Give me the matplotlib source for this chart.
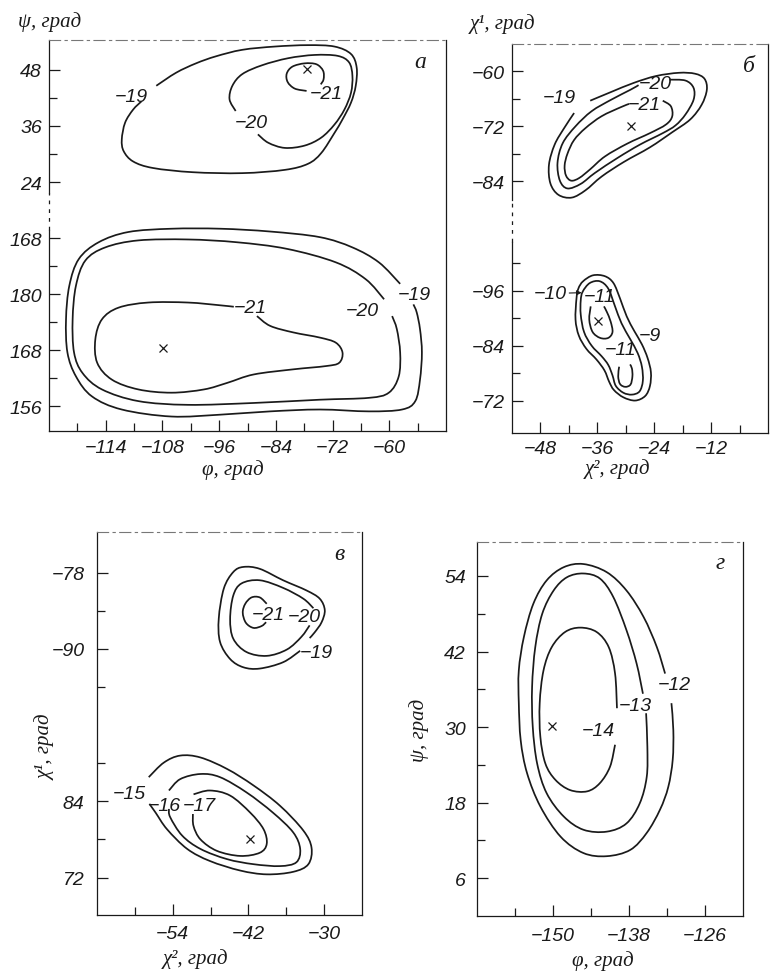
import numpy as np
import matplotlib
matplotlib.use('Agg')
from matplotlib import pyplot as plt
from matplotlib import font_manager
from matplotlib.path import Path
from matplotlib.patches import PathPatch


# ---- panel а: phi / psi, lower part of psi axis is 156..192 (shown shifted)
A_UP_19 = [(-109.3, 44.6), (-105.1, 47.4), (-100.9, 49.4), (-96.7, 50.9), (-91.1, 52.3), (-84.2, 53.0),
           (-77.2, 53.3), (-71.6, 53.0), (-68.1, 51.4), (-66.9, 48.5), (-67.1, 44.6), (-68.1, 41.0),
           (-69.9, 37.4), (-71.6, 34.5), (-74.4, 30.2), (-77.2, 27.9), (-82.1, 26.6), (-91.1, 25.9),
           (-101.6, 26.1), (-110.0, 27.0), (-114.2, 28.4), (-116.2, 30.6), (-116.6, 33.1), (-115.9, 36.7),
           (-114.2, 39.5), (-112.4, 41.3)]
A_UP_20 = [(-92.5, 39.2), (-93.8, 41.7), (-93.2, 44.6), (-91.1, 47.1), (-86.9, 49.0), (-81.4, 50.5),
           (-75.8, 51.2), (-70.9, 51.0), (-68.5, 49.6), (-67.8, 46.7), (-68.1, 43.1), (-69.5, 39.5),
           (-71.6, 36.3), (-74.4, 33.5), (-77.9, 31.8), (-82.1, 31.3), (-85.6, 32.4), (-87.8, 34.2)]
A_UP_21 = [(-77.5, 43.5), (-80.0, 44.0), (-81.5, 45.4), (-81.7, 47.2), (-80.5, 48.7), (-77.9, 49.4),
           (-75.4, 49.2), (-74.0, 47.8), (-73.9, 46.0), (-74.5, 44.9)]
A_LOW_19 = [(-57.7, 182.2), (-62.2, 186.8), (-67.8, 190.0), (-74.7, 192.2), (-85.2, 193.4), (-95.7, 194.0),
            (-106.1, 194.0), (-115.2, 193.3), (-121.5, 191.1), (-125.7, 187.5), (-127.7, 181.8),
            (-128.4, 174.6), (-128.1, 167.5), (-126.3, 162.4), (-122.9, 158.1), (-116.6, 155.3),
            (-106.1, 153.8), (-95.7, 154.2), (-85.2, 154.9), (-74.7, 155.3), (-64.3, 154.9), (-57.3, 155.3),
            (-54.5, 157.1), (-53.5, 161.7), (-53.1, 167.5), (-53.5, 172.5), (-54.2, 176.1), (-54.9, 177.8)]
A_LOW_20 = [(-61.1, 178.9), (-65.0, 183.2), (-71.3, 186.8), (-81.7, 189.7), (-92.2, 191.1), (-102.6, 191.7),
            (-113.1, 191.5), (-120.1, 190.0), (-124.3, 187.2), (-126.3, 181.8), (-127.0, 174.6),
            (-126.7, 167.5), (-124.9, 163.1), (-120.8, 159.6), (-113.1, 157.1), (-102.6, 156.3),
            (-88.7, 156.7), (-74.7, 157.4), (-64.3, 157.8), (-60.1, 158.9), (-58.0, 162.4), (-57.7, 167.5),
            (-58.4, 172.5), (-59.4, 175.3)]
A_LOW_21 = [(-88.0, 175.3), (-85.2, 173.2), (-80.3, 171.8), (-74.7, 170.7), (-71.3, 169.6), (-69.9, 167.5),
            (-70.6, 165.3), (-73.4, 164.6), (-80.3, 163.9), (-88.7, 162.8), (-94.3, 161.0), (-99.2, 159.6),
            (-106.1, 158.9), (-113.1, 159.6), (-118.7, 161.7), (-121.8, 165.3), (-122.2, 170.3),
            (-120.8, 174.6), (-117.3, 177.1), (-111.0, 178.2), (-102.6, 178.2), (-95.7, 177.6), (-92.9, 177.3)]
A_UP_LABELS = [("−19", -114.5, 42.4), ("−20", -89.1, 36.8), ("−21", -73.4, 43.0)]
A_LOW_LABELS = [("−19", -54.8, 180.0), ("−20", -65.7, 176.4), ("−21", -89.5, 177.1)]
A_UP_MIN = [(-77.4, 48.2)]
A_LOW_MIN = [(-107.9, 168.5)]
A_XTICKS = [-120, -108, -96, -84, -72, -60]
A_XLABELS = ["−114", "−108", "−96", "−84", "−72", "−60"]
A_XMINOR = [-126, -114, -102, -90, -78, -66, -54]
A_YTICKS_UP = [48, 36, 24]
A_YMINOR_UP = [42, 30]
A_YTICKS_LOW = [192, 180, 168, 156]
A_YLABELS_LOW = ["168", "180", "168", "156"]
A_YMINOR_LOW = [186, 174, 162]

# ---- panel б: chi2 / chi1
B_UP_19 = [(-37.5, -66.4), (-33.1, -64.5), (-28.3, -62.5), (-23.6, -61.0), (-18.8, -60.3), (-15.4, -60.5),
           (-13.4, -61.6), (-12.9, -64.0), (-14.0, -67.3), (-16.4, -70.5), (-20.2, -73.3), (-24.9, -76.6),
           (-30.4, -79.8), (-35.1, -83.0), (-38.5, -86.0), (-41.4, -87.6), (-44.2, -87.0), (-45.9, -84.5),
           (-46.2, -80.4), (-45.0, -76.0), (-43.0, -72.4), (-40.9, -69.1)]
B_UP_20 = [(-20.8, -61.8), (-17.4, -62.0), (-15.7, -63.6), (-15.7, -66.2), (-17.4, -69.4), (-19.5, -71.8),
           (-22.2, -73.5), (-27.0, -76.0), (-31.7, -78.9), (-36.5, -82.2), (-39.5, -84.6), (-42.3, -85.6),
           (-43.9, -83.9), (-44.4, -80.0), (-43.3, -75.7), (-40.6, -72.0), (-37.2, -68.7), (-33.1, -66.2),
           (-29.0, -64.0), (-27.3, -63.0)]
B_UP_21 = [(-22.2, -66.4), (-20.5, -67.6), (-20.2, -69.8), (-21.5, -71.6), (-24.9, -73.5), (-29.7, -75.8),
           (-34.4, -78.6), (-37.5, -81.4), (-39.8, -83.3), (-41.5, -83.9), (-42.6, -82.8), (-42.9, -80.6),
           (-42.3, -78.0), (-40.9, -75.0), (-38.5, -72.4), (-35.1, -69.8), (-31.0, -67.8), (-29.3, -67.1)]
B_LOW_9 = [(-39.0, 98.1), (-36.9, 99.4), (-34.4, 99.2), (-32.6, 97.7), (-31.2, 94.3), (-29.8, 90.4),
           (-28.2, 87.2), (-26.6, 84.3), (-25.4, 81.3), (-24.7, 78.2), (-24.9, 75.2), (-25.9, 73.0),
           (-28.0, 72.0), (-30.5, 72.7), (-32.5, 74.3), (-33.5, 76.1), (-34.5, 78.6), (-36.2, 81.0),
           (-38.3, 83.3), (-39.9, 86.2), (-40.6, 89.7), (-40.4, 94.3), (-40.0, 96.5)]
B_LOW_10 = [(-39.1, 95.8), (-37.6, 97.7), (-35.5, 98.1), (-33.7, 96.5), (-32.3, 92.7), (-30.9, 88.9),
            (-29.1, 85.5), (-27.5, 82.4), (-26.6, 79.4), (-26.4, 76.3), (-27.1, 74.0), (-28.7, 73.3),
            (-30.5, 73.7), (-32.1, 75.2), (-32.8, 77.5), (-33.7, 79.8), (-35.1, 81.7), (-37.2, 84.0),
            (-38.8, 87.0), (-39.5, 90.8), (-39.5, 93.9)]
B_LOW_11A = [(-37.4, 92.6), (-37.7, 89.7), (-37.0, 87.0), (-35.4, 85.7), (-33.7, 85.7), (-32.8, 87.0),
             (-33.2, 89.3), (-34.0, 91.4), (-34.6, 92.6)]
B_LOW_11B = [(-31.4, 79.4), (-31.6, 77.3), (-31.2, 75.6), (-30.1, 75.0), (-29.0, 75.5), (-28.6, 77.3),
             (-28.7, 79.0), (-29.1, 79.9)]
B_UP_LABELS = [("−19", -44.0, -65.8), ("−20", -23.7, -62.7), ("−21", -26.1, -67.3)]
B_LOW_LABELS = [("−11", -35.6, 94.7), ("−9", -25.0, 86.2), ("−11", -31.0, 83.2)]
B_ARROW = ("−10", -46.0, 95.4, -39.3, 95.6)
B_UP_MIN = [(-29.0, -72.0)]
B_LOW_MIN = [(-35.8, 89.3)]
B_XTICKS = [-48, -36, -24, -12]
B_XLABELS = ["−48", "−36", "−24", "−12"]
B_XMINOR = [-42, -30, -18, -6]
B_YTICKS_UP = [-60, -72, -84]
B_YMINOR_UP = [-66, -78]
B_YTICKS_LOW = [96, 84, 72]
B_YLABELS_LOW = ["−96", "−84", "−72"]
B_YMINOR_LOW = [102, 90, 78]

# ---- panel в: chi2 / chi1
C_UP_19 = [(-33.8, -90.3), (-36.5, -92.1), (-40.2, -93.1), (-42.8, -92.9), (-44.9, -91.6), (-46.5, -88.9),
           (-46.7, -85.2), (-45.9, -80.5), (-44.4, -77.9), (-42.8, -77.1), (-40.2, -77.4), (-36.5, -79.2),
           (-32.8, -80.8), (-30.7, -82.1), (-29.9, -83.9), (-30.4, -85.8), (-31.5, -87.4), (-32.3, -88.3)]
C_UP_20 = [(-31.7, -83.6), (-33.3, -82.1), (-36.5, -80.4), (-40.2, -79.2), (-43.1, -79.7), (-44.4, -81.6),
           (-44.9, -85.3), (-44.4, -88.4), (-42.3, -90.5), (-39.1, -91.1), (-35.9, -90.1), (-33.6, -88.1),
           (-32.3, -86.3)]
C_UP_21 = [(-39.1, -82.9), (-40.2, -81.9), (-41.5, -81.9), (-42.5, -82.9), (-42.9, -84.3), (-42.4, -85.9),
           (-41.2, -86.7), (-39.9, -86.4), (-39.2, -85.8)]
C_LOW_15 = [(-57.8, 87.8), (-55.4, 90.1), (-52.8, 91.2), (-49.6, 90.9), (-45.4, 89.1), (-41.2, 86.5),
            (-37.0, 83.3), (-33.3, 79.4), (-32.0, 76.7), (-32.5, 74.1), (-34.9, 72.9), (-39.1, 72.5),
            (-43.3, 73.1), (-48.1, 74.6), (-51.7, 76.5), (-54.9, 79.6), (-56.7, 82.2), (-57.7, 83.6)]
C_LOW_16 = [(-54.6, 85.7), (-52.8, 87.5), (-49.6, 88.3), (-46.5, 87.8), (-42.3, 85.4), (-38.1, 82.2),
            (-34.9, 79.1), (-33.8, 76.5), (-34.4, 74.4), (-37.0, 73.8), (-41.2, 74.1), (-45.4, 74.9),
            (-49.6, 76.5), (-52.5, 78.6), (-54.4, 81.5), (-54.6, 82.8)]
C_LOW_17 = [(-50.7, 85.1), (-48.1, 85.7), (-44.9, 84.9), (-41.7, 82.2), (-39.6, 79.6), (-39.1, 77.3),
            (-40.2, 75.9), (-43.3, 75.4), (-47.0, 76.2), (-49.6, 78.0), (-50.7, 80.1), (-50.8, 82.0)]
C_UP_LABELS = [("−21", -38.9, -84.6), ("−20", -33.1, -84.9), ("−19", -31.2, -90.6)]
C_LOW_LABELS = [("−15", -60.9, 85.3), ("−16", -55.4, 83.4), ("−17", -49.8, 83.3)]
C_LOW_MIN = [(-41.7, 78.0)]
C_XTICKS = [-54, -42, -30]
C_XLABELS = ["−54", "−42", "−30"]
C_XMINOR = [-60, -48, -36]
C_YTICKS_UP = [-78, -90]
C_YMINOR_UP = [-84, -96]
C_YTICKS_LOW = [84, 72]
C_YLABELS_LOW = ["84", "72"]
C_YMINOR_LOW = [90, 78]

# ---- panel г: phi / psi
D_12 = [(-132.3, 38.5), (-133.6, 42.7), (-135.7, 47.5), (-138.4, 51.7), (-141.5, 54.6), (-145.2, 55.9),
        (-148.3, 55.4), (-151.0, 53.3), (-153.1, 49.6), (-154.6, 44.3), (-155.4, 39.0), (-155.4, 33.8),
        (-155.1, 27.9), (-154.1, 22.7), (-152.0, 17.4), (-148.8, 12.6), (-145.2, 10.0), (-141.5, 9.5),
        (-137.8, 10.5), (-135.2, 13.2), (-133.1, 16.9), (-131.8, 20.5), (-131.1, 24.8), (-131.0, 29.5),
        (-131.3, 33.8)]
D_13 = [(-135.8, 35.3), (-136.8, 40.1), (-138.4, 45.4), (-140.5, 50.7), (-142.6, 53.6), (-145.2, 54.4),
        (-147.8, 53.8), (-149.9, 51.7), (-151.7, 48.0), (-152.8, 42.7), (-153.3, 36.4), (-153.2, 30.1),
        (-152.5, 24.2), (-151.0, 19.5), (-148.3, 15.8), (-145.2, 13.7), (-141.5, 13.4), (-138.4, 14.7),
        (-136.3, 17.9), (-135.2, 22.1), (-135.1, 26.9), (-135.3, 32.2)]
D_14 = [(-139.9, 33.0), (-140.2, 38.5), (-141.2, 42.7), (-143.1, 45.1), (-145.7, 45.8), (-148.1, 45.1),
        (-150.2, 42.7), (-151.5, 39.0), (-152.1, 33.8), (-152.0, 28.5), (-151.2, 24.2), (-149.6, 21.6),
        (-147.3, 20.0), (-144.6, 19.8), (-142.6, 21.1), (-141.0, 23.7), (-140.2, 27.2)]
D_LABELS = [("−12", -130.8, 36.7), ("−13", -137.0, 33.5), ("−14", -142.8, 29.4)]
D_MIN = [(-150.2, 30.2)]
D_XTICKS = [-150, -138, -126]
D_XLABELS = ["−150", "−138", "−126"]
D_XMINOR = [-156, -144, -132]
D_YTICKS = [54, 42, 30, 18, 6]
D_YMINOR = [48, 36, 24, 12]

# shift of the lower block of a broken axis
A_SHIFT = 180
B_SHIFT = 204
C_SHIFT = 198

W, H = 772, 979
INK = '#1a1a1a'

names = {f.name for f in font_manager.fontManager.ttflist}
NUM_FONT = 'Liberation Sans' if 'Liberation Sans' in names else 'DejaVu Sans'
TXT_FONT = 'Liberation Serif' if 'Liberation Serif' in names else 'DejaVu Serif'
plt.rcParams['font.family'] = [NUM_FONT, 'DejaVu Sans']
plt.rcParams['font.style'] = 'italic'
NUM_SIZE = 14


def smooth_path(pts, closed=False, shift=0.0):
    p = np.asarray(pts, float) - np.array([0.0, shift])
    if closed:
        ext = np.vstack([p[-1], p, p[0], p[1]])
    else:
        ext = np.vstack([p[0], p, p[-1]])
    verts = [ext[1]]
    codes = [Path.MOVETO]
    for i in range(1, len(ext) - 2):
        p0, p1, p2, p3 = ext[i - 1], ext[i], ext[i + 1], ext[i + 2]
        verts += [p1 + (p2 - p0) / 6.0, p2 - (p3 - p1) / 6.0, p2]
        codes += [Path.CURVE4] * 3
    return Path(verts, codes)


def contour(ax, pts, closed=False, shift=0.0):
    ax.add_patch(PathPatch(smooth_path(pts, closed, shift), fill=False, ec=INK, lw=1.25))


def labels(ax, items, shift=0.0):
    for s, x, y in items:
        ax.text(x, y - shift, s, ha='center', va='center', fontsize=NUM_SIZE, color=INK)


def minima(ax, pts, shift=0.0):
    for x, y in pts:
        ax.plot([x], [y - shift], marker='x', ms=6, mew=0.9, color=INK, ls='none')


def px_axes(fig, l, t, r, b):
    return fig.add_axes([l / W, 1 - b / H, (r - l) / W, (b - t) / H])


def setup(ax, xlim, ylim, xt, xl, xm, yt, yl, ym, xpad, ypad, gap=None):
    ax.set_xlim(xlim)
    ax.set_ylim(ylim)
    ax.set_xticks(xt)
    ax.set_xticklabels(xl)
    ax.set_xticks(xm, minor=True)
    ax.set_yticks(yt)
    ax.set_yticklabels(yl)
    ax.set_yticks(ym, minor=True)
    ax.tick_params(which='both', direction='in', width=0.9, color=INK, labelsize=NUM_SIZE, labelcolor=INK)
    ax.tick_params(which='major', length=8)
    ax.tick_params(which='minor', length=6)
    ax.tick_params(axis='x', pad=xpad)
    ax.tick_params(axis='y', pad=ypad)
    for side in ['bottom', 'right', 'left']:
        ax.spines[side].set_color(INK)
        ax.spines[side].set_linewidth(0.9)
    ax.spines['top'].set_color('#777777')
    ax.spines['top'].set_linewidth(0.8)
    ax.spines['top'].set_linestyle((0, (10, 4, 2, 4)))
    if gap is not None:
        ax.spines['left'].set_visible(False)
        x0 = xlim[0]
        ax.plot([x0, x0], [ylim[0], gap[0]], color=INK, lw=0.9, clip_on=False)
        ax.plot([x0, x0], [gap[0], gap[1]], color=INK, lw=0.9, ls=(0, (3, 4)), clip_on=False)
        ax.plot([x0, x0], [gap[1], ylim[1]], color=INK, lw=0.9, clip_on=False)
        ax.set_xlim(xlim)
        ax.set_ylim(ylim)


def ftext(fig, x, y, s, **kw):
    kw.setdefault('fontsize', 15)
    kw.setdefault('family', TXT_FONT)
    fig.text(x / W, 1 - y / H, s, ha='center', va='center', color=INK, **kw)


def main():
    fig = plt.figure(figsize=(W / 100, H / 100), dpi=100)

    # а
    ax = px_axes(fig, 49, 41, 446, 432)
    for c in (A_UP_19, A_UP_20, A_UP_21):
        contour(ax, c)
    for c in (A_LOW_19, A_LOW_20, A_LOW_21):
        contour(ax, c, shift=A_SHIFT)
    labels(ax, A_UP_LABELS)
    labels(ax, A_LOW_LABELS, A_SHIFT)
    minima(ax, A_UP_MIN)
    minima(ax, A_LOW_MIN, A_SHIFT)
    setup(ax, (-132, -48), (-29.3, 54.4), A_XTICKS, A_XLABELS, A_XMINOR,
          A_YTICKS_UP + [v - A_SHIFT for v in A_YTICKS_LOW],
          [str(v) for v in A_YTICKS_UP] + A_YLABELS_LOW,
          A_YMINOR_UP + [v - A_SHIFT for v in A_YMINOR_LOW], 6, 5, gap=(13.7, 21.7))
    ax.text(0.935, 0.945, 'а', transform=ax.transAxes, fontsize=17, family=TXT_FONT,
            ha='center', va='center', color=INK)

    # б
    ax = px_axes(fig, 512, 45, 768, 434)
    for c in (B_UP_19, B_UP_20, B_UP_21):
        contour(ax, c)
    contour(ax, B_LOW_9, closed=True, shift=B_SHIFT)
    contour(ax, B_LOW_10, closed=True, shift=B_SHIFT)
    contour(ax, B_LOW_11A, shift=B_SHIFT)
    contour(ax, B_LOW_11B, shift=B_SHIFT)
    labels(ax, B_UP_LABELS)
    labels(ax, B_LOW_LABELS, B_SHIFT)
    s, tx, ty, hx, hy = B_ARROW
    ax.annotate(s, xy=(hx, hy - B_SHIFT), xytext=(tx, ty - B_SHIFT), ha='center', va='center',
                fontsize=NUM_SIZE, color=INK,
                arrowprops=dict(arrowstyle='-|>', color=INK, lw=0.8, shrinkA=10, shrinkB=0,
                                mutation_scale=7))
    minima(ax, B_UP_MIN)
    minima(ax, B_LOW_MIN, B_SHIFT)
    setup(ax, (-54, 0), (-139.1, -54.0), B_XTICKS, B_XLABELS, B_XMINOR,
          B_YTICKS_UP + [v - B_SHIFT for v in B_YTICKS_LOW],
          ["−" + str(-v) for v in B_YTICKS_UP] + B_YLABELS_LOW,
          B_YMINOR_UP + [v - B_SHIFT for v in B_YMINOR_LOW], 5, 5, gap=(-97.3, -88.2))
    ax.text(0.925, 0.945, 'б', transform=ax.transAxes, fontsize=17, family=TXT_FONT,
            ha='center', va='center', color=INK)

    # в
    ax = px_axes(fig, 97, 533, 362, 916)
    for c in (C_UP_19, C_UP_20, C_UP_21):
        contour(ax, c)
    for c in (C_LOW_15, C_LOW_16, C_LOW_17):
        contour(ax, c, shift=C_SHIFT)
    labels(ax, C_UP_LABELS)
    labels(ax, C_LOW_LABELS, C_SHIFT)
    minima(ax, C_LOW_MIN, C_SHIFT)
    setup(ax, (-66, -24), (-131.9, -71.6), C_XTICKS, C_XLABELS, C_XMINOR,
          C_YTICKS_UP + [v - C_SHIFT for v in C_YTICKS_LOW],
          ["−" + str(-v) for v in C_YTICKS_UP] + C_YLABELS_LOW,
          C_YMINOR_UP + [v - C_SHIFT for v in C_YMINOR_LOW], 7, 9)
    ax.text(0.915, 0.945, 'в', transform=ax.transAxes, fontsize=17, family=TXT_FONT,
            ha='center', va='center', color=INK)

    # г
    ax = px_axes(fig, 477, 543, 743, 917)
    for c in (D_12, D_13, D_14):
        contour(ax, c)
    labels(ax, D_LABELS)
    minima(ax, D_MIN)
    setup(ax, (-162, -120), (0, 59.4), D_XTICKS, D_XLABELS, D_XMINOR,
          D_YTICKS, [str(v) for v in D_YTICKS], D_YMINOR, 8, 8)
    ax.text(0.915, 0.945, 'г', transform=ax.transAxes, fontsize=17, family=TXT_FONT,
            ha='center', va='center', color=INK)

    # axis titles
    ftext(fig, 50, 22, 'ψ, град')
    ftext(fig, 233, 470, 'φ, град')
    ftext(fig, 502, 24, 'χ¹, град')
    ftext(fig, 617, 469, 'χ², град')
    ftext(fig, 195, 959, 'χ², град')
    ftext(fig, 46, 747, 'χ¹, град', rotation=90)
    ftext(fig, 419, 730, 'ψ, град', rotation=90)
    ftext(fig, 603, 961, 'φ, град')

    fig.savefig('out.png', dpi=100, facecolor='white')


if __name__ == '__main__':
    main()
